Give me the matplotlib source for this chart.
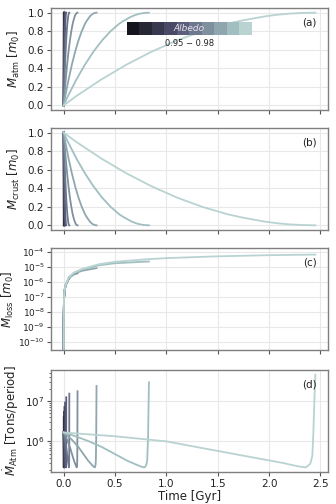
import numpy as np
import matplotlib
matplotlib.use("Agg")
import matplotlib.pyplot as plt
from matplotlib import cm

# ---------------- data ----------------
end_times = [0.001, 0.004, 0.008, 0.014, 0.025, 0.055, 0.135, 0.32, 0.83, 2.45]   # Gyr
albedo_label = "0.95 \u2212 0.98"

# normalised-time profiles for panels (a) and (b)
frac = [0, 0.05, 0.1, 0.15, 0.2, 0.25, 0.3, 0.35, 0.4, 0.45, 0.5, 0.55, 0.6,
        0.65, 0.7, 0.75, 0.8, 0.85, 0.9, 0.95, 1.0]
atm_profile = [0, 0.10, 0.19, 0.28, 0.36, 0.44, 0.51, 0.58, 0.64, 0.70, 0.75,
               0.80, 0.84, 0.88, 0.91, 0.936, 0.96, 0.978, 0.99, 0.997, 1.0]
crust_profile = [1.0, 0.90, 0.81, 0.72, 0.64, 0.56, 0.49, 0.42, 0.36, 0.30, 0.25,
                 0.20, 0.16, 0.12, 0.09, 0.064, 0.04, 0.022, 0.01, 0.003, 0.0]

# panel (c): mass loss along time (log10 m0) and end value of each run
loss_time = [0.0, 0.0003, 0.001, 0.003, 0.008, 0.02, 0.05, 0.1, 0.18, 0.34,
             0.5, 0.83, 1.02, 1.48, 2.0, 2.45]
loss_log = [-12.0, -9.5, -8.3, -7.2, -6.6, -6.2, -5.71, -5.4, -5.16, -4.85,
            -4.68, -4.5, -4.43, -4.32, -4.24, -4.2]
loss_end_log = [-8.4, -7.1, -6.7, -6.45, -6.15, -5.8, -5.45, -5.1, -4.66, -4.2]

# panel (d): atmospheric escape rate (log10 tons/period)
rate_frac = [0, 0.15, 0.3, 0.45, 0.6, 0.75, 0.85, 0.92, 0.95, 0.97, 0.98, 0.99, 1.0]
rate_log = [6.22, 6.12, 6.0, 5.86, 5.69, 5.52, 5.43, 5.37, 5.36, 5.42, 5.55, 6.1]
rate_frac_long = [0, 0.2, 0.41, 0.53, 0.73, 0.87, 0.935, 0.963, 0.98, 0.988, 0.992, 0.996, 1.0]
rate_log_long = [6.22, 6.13, 6.0, 5.86, 5.63, 5.47, 5.38, 5.36, 5.45, 5.65, 6.2, 7.0]
rate_peak_log = [6.6, 6.73, 6.85, 6.96, 7.09, 7.18, 7.24, 7.37, 7.46, 7.65]

# ---------------- figure ----------------
n = len(end_times)
colors = [cm.bone(v) for v in np.linspace(0.1, 0.8, n)]

fig = plt.figure(figsize=(3.36, 5.04), dpi=100)
left, width, height = 0.152, 0.824, 0.2024
bottoms = [0.7817, 0.5437, 0.3056, 0.0635]
axes = [fig.add_axes([left, b, width, height]) for b in bottoms]
for ax in axes[1:]:
    ax.sharex(axes[0])

lw = 1.3
for i, T in enumerate(end_times):
    t = np.array(frac) * T
    axes[0].plot(t, atm_profile, color=colors[i], lw=lw)
    axes[1].plot(t, crust_profile, color=colors[i], lw=lw)

    # panel c
    tt = np.array([x for x in loss_time if x < T] + [T])
    base = np.interp(tt, loss_time, loss_log)
    off = loss_end_log[i] - base[-1]
    yy = base + off * (tt / T)
    axes[2].plot(tt, 10 ** yy, color=colors[i], lw=lw)

    # panel d
    if i == n - 1:
        fr, vals = rate_frac_long, rate_log_long + [rate_peak_log[i]]
    else:
        fr, vals = rate_frac, rate_log + [rate_peak_log[i]]
    axes[3].plot(np.array(fr) * T, 10 ** np.array(vals), color=colors[i], lw=lw)

axes[2].set_yscale("log")
axes[3].set_yscale("log")
axes[2].set_ylim(10 ** -10.55, 10 ** -3.76)
axes[2].set_yticks([10.0 ** k for k in range(-10, -3)])
axes[0].set_yticks([0, 0.2, 0.4, 0.6, 0.8, 1.0])
axes[1].set_yticks([0, 0.2, 0.4, 0.6, 0.8, 1.0])
axes[0].set_xticks([0, 0.5, 1.0, 1.5, 2.0, 2.5])

ylabels = [r"$M_\mathrm{atm}$ [$m_0$]", r"$M_\mathrm{crust}$ [$m_0$]",
           r"$M_\mathrm{loss}$ [$m_0$]", r"$\dot{M}_\mathrm{Atm}$ [Tons/period]"]
label_x = [-0.105, -0.105, -0.125, -0.11]
tags = ["(a)", "(b)", "(c)", "(d)"]
for k, (ax, yl, tag) in enumerate(zip(axes, ylabels, tags)):
    ax.set_ylabel(yl, fontsize=8.5, color="#222222")
    ax.yaxis.set_label_coords(label_x[k], 0.5)
    ax.grid(True, color="#e8e8e8", lw=0.8)
    ax.set_axisbelow(True)
    for s in ax.spines.values():
        s.set_color("#7f7f7f")
        s.set_linewidth(1.0)
    ax.tick_params(axis="both", which="major", labelsize=7.5, length=3, width=0.8,
                   color="#555555", labelcolor="#222222", pad=2)
    ax.tick_params(axis="both", which="minor", length=1.8, width=0.6, color="#555555")
    ax.text(0.96, 0.86, tag, transform=ax.transAxes, ha="right", va="center",
            fontsize=7.5, color="#222222")
axes[2].tick_params(axis="y", which="major", labelsize=6.5, pad=1.5)
for ax in axes[:3]:
    ax.tick_params(axis="x", labelbottom=False)
axes[3].set_xlabel("Time [Gyr]", fontsize=8.5, color="#222222", labelpad=1)

# albedo colour key
cax = fig.add_axes([0.378, 0.9306, 0.372, 0.0258])
cax.imshow(np.arange(n)[None, :], cmap=matplotlib.colors.ListedColormap(colors),
           aspect="auto", extent=[0, n, 0, 1])
cax.set_xticks([]); cax.set_yticks([])
for s in cax.spines.values():
    s.set_visible(False)
cax.text(0.5, 0.5, "Albedo", transform=cax.transAxes, ha="center", va="center",
         fontsize=6.5, style="italic", color="#e8e4f0")
fig.text(0.378 + 0.372 / 2, 0.9306 - 0.008, albedo_label, ha="center", va="top",
         fontsize=6, color="#222222")

fig.savefig("out.png", dpi=100)
